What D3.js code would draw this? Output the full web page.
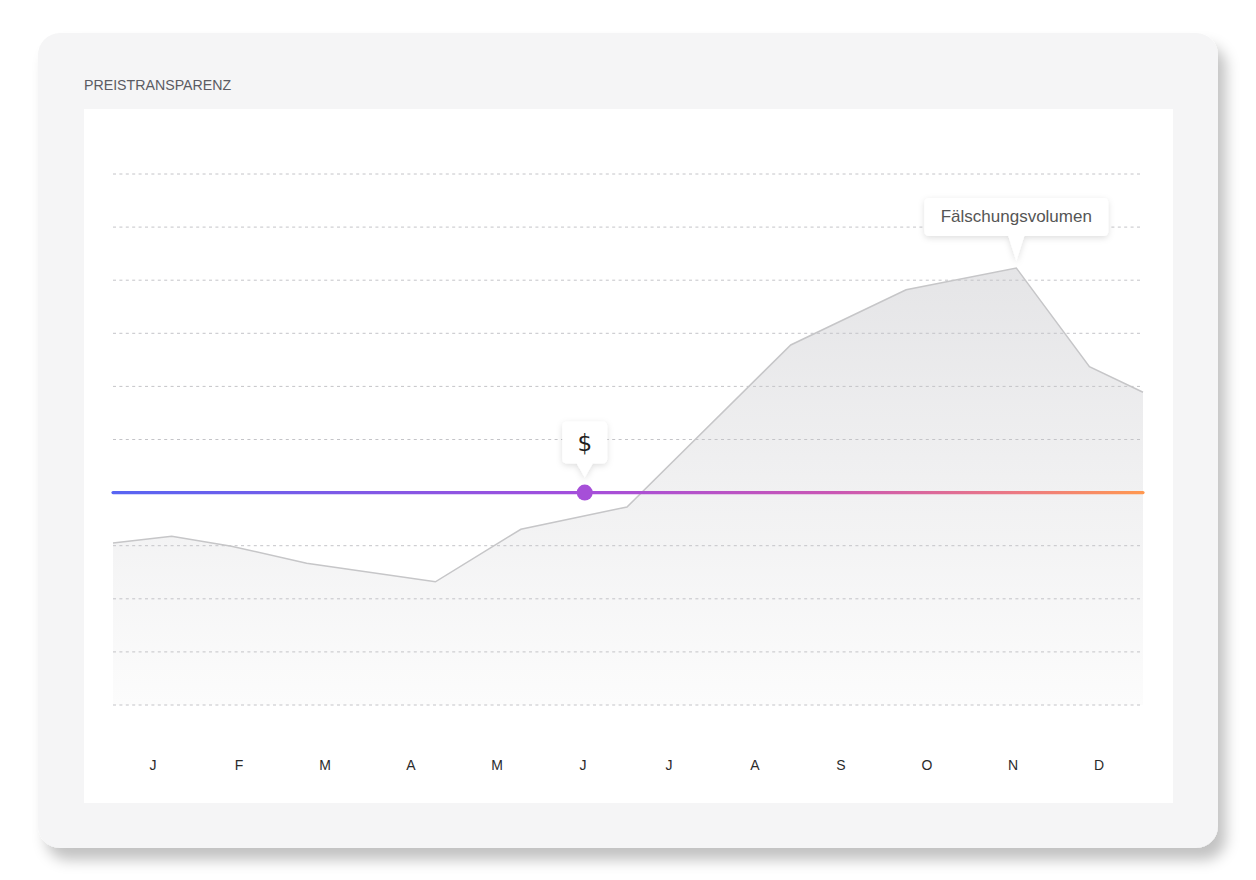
<!DOCTYPE html>
<html>
<head>
  <meta charset="utf-8">
  <title>Preistransparenz</title>
  <style type="text/css">
    body {
      margin: 0;
      background-color: #fff;
      font-family: "Liberation Sans", Arial, sans-serif;
    }
    svg { display: block; }
    .grid line {
      stroke: #c4c4c8;
      stroke-dasharray: 3,3.4;
    }
    .axis text {
      font-size: 14px;
      fill: #2b2b2b;
    }
  </style>
  <script src="https://d3js.org/d3.v7.min.js"></script>
</head>
<body>
<script>
// months on the bottom
var months = ["J", "F", "M", "A", "M", "J", "J", "A", "S", "O", "N", "D"];

// area series: position along the year (0-100) and value (0-100)
var volumeX = [0, 5.7, 11.5, 18.8, 31.3, 39.6, 49.9, 65.8, 77.0, 87.7, 94.8, 100];
var volumeY = [30.5, 31.8, 29.9, 26.7, 23.2, 33.1, 37.3, 67.8, 78.2, 82.3, 63.7, 58.9];

// price reference line + marker
var priceLevel = 40;
var markerX = 45.8;
var markerLabel = "$";
var peakLabel = "Fälschungsvolumen";
var title = "PREISTRANSPARENZ";

var W = 1256, H = 880;

var svg = d3.select("body").append("svg")
  .attr("width", W)
  .attr("height", H);

var defs = svg.append("defs");

var shadow = defs.append("filter").attr("id", "cardShadow")
  .attr("x", "-5%").attr("y", "-5%").attr("width", "115%").attr("height", "120%");
shadow.append("feDropShadow")
  .attr("dx", 8).attr("dy", 12).attr("stdDeviation", 7)
  .attr("flood-color", "#000").attr("flood-opacity", 0.24);

var tipShadow = defs.append("filter").attr("id", "tipShadow")
  .attr("x", "-30%").attr("y", "-30%").attr("width", "160%").attr("height", "170%");
tipShadow.append("feDropShadow")
  .attr("dx", 0).attr("dy", 2).attr("stdDeviation", 3)
  .attr("flood-color", "#000").attr("flood-opacity", 0.13);

// card + white panel
svg.append("rect")
  .attr("x", 38).attr("y", 33)
  .attr("width", 1180).attr("height", 815)
  .attr("rx", 22)
  .attr("fill", "#f5f5f6")
  .attr("filter", "url(#cardShadow)");

svg.append("rect")
  .attr("x", 84).attr("y", 109)
  .attr("width", 1089).attr("height", 694)
  .attr("fill", "#fff");

svg.append("text")
  .attr("x", 84).attr("y", 90)
  .attr("font-size", 14.2)
  .attr("fill", "#5b5b63")
  .text(title);

var plotLeft = 113, plotRight = 1143, plotTop = 174, plotBottom = 705;

var x = d3.scaleLinear().domain([0, 100]).range([plotLeft, plotRight]);
var y = d3.scaleLinear().domain([0, 100]).range([plotBottom, plotTop]);
var xMonth = d3.scaleBand().domain(d3.range(months.length)).range([110, 1142]);

var data = volumeX.map(function(v, i) { return {x: v, y: volumeY[i]}; });

// area gradient
var areaGrad = defs.append("linearGradient").attr("id", "areaGrad")
  .attr("gradientUnits", "userSpaceOnUse")
  .attr("x1", 0).attr("y1", y(d3.max(volumeY))).attr("x2", 0).attr("y2", plotBottom);
areaGrad.append("stop").attr("offset", "0%").attr("stop-color", "#e5e5e7");
areaGrad.append("stop").attr("offset", "100%").attr("stop-color", "#fcfcfc");

var area = d3.area()
  .x(function(d) { return x(d.x); })
  .y0(plotBottom)
  .y1(function(d) { return y(d.y); });

svg.append("path")
  .datum(data)
  .attr("d", area)
  .attr("fill", "url(#areaGrad)");

// dashed grid
svg.append("g")
  .attr("class", "grid")
  .selectAll("line")
  .data(y.ticks(10))
  .enter().append("line")
    .attr("x1", plotLeft).attr("x2", plotRight)
    .attr("y1", function(d) { return y(d); })
    .attr("y2", function(d) { return y(d); });

var line = d3.line()
  .x(function(d) { return x(d.x); })
  .y(function(d) { return y(d.y); });

svg.append("path")
  .datum(data)
  .attr("d", line)
  .attr("fill", "none")
  .attr("stroke", "#c6c6c8")
  .attr("stroke-width", 1.5);

// gradient price line
var lineGrad = defs.append("linearGradient").attr("id", "lineGrad")
  .attr("gradientUnits", "userSpaceOnUse")
  .attr("x1", plotLeft).attr("y1", 0).attr("x2", plotRight).attr("y2", 0);
[["0%", "#5865f2"], ["45%", "#a34edc"], ["70%", "#c956b4"], ["88%", "#ec7a82"], ["100%", "#ff9850"]]
  .forEach(function(s) {
    lineGrad.append("stop").attr("offset", s[0]).attr("stop-color", s[1]);
  });

svg.append("line")
  .attr("x1", plotLeft).attr("x2", plotRight)
  .attr("y1", y(priceLevel)).attr("y2", y(priceLevel))
  .attr("stroke", "url(#lineGrad)")
  .attr("stroke-width", 3.2)
  .attr("stroke-linecap", "round");

// tooltip shape: rounded box with a pointer underneath, tip at (cx, tipY)
function tipPath(cx, tipY, w, h, gap, r) {
  var x0 = cx - w / 2, x1 = cx + w / 2;
  var yb = tipY - gap, y0 = yb - h;
  var p = 8;
  return "M" + (x0 + r) + "," + y0 +
    "H" + (x1 - r) + "Q" + x1 + "," + y0 + " " + x1 + "," + (y0 + r) +
    "V" + (yb - r) + "Q" + x1 + "," + yb + " " + (x1 - r) + "," + yb +
    "H" + (cx + p) + "L" + cx + "," + tipY + "L" + (cx - p) + "," + yb +
    "H" + (x0 + r) + "Q" + x0 + "," + yb + " " + x0 + "," + (yb - r) +
    "V" + (y0 + r) + "Q" + x0 + "," + y0 + " " + (x0 + r) + "," + y0 + "Z";
}

// $ marker
var mx = x(markerX), my = y(priceLevel);
svg.append("path")
  .attr("d", tipPath(mx, my - 15, 45, 42, 14, 5))
  .attr("fill", "#fff")
  .attr("filter", "url(#tipShadow)");
svg.append("text")
  .attr("x", mx).attr("y", my - 42)
  .attr("text-anchor", "middle")
  .attr("font-family", "DejaVu Sans, sans-serif")
  .attr("font-size", 23)
  .attr("fill", "#1f1f1f")
  .text(markerLabel);
svg.append("circle")
  .attr("cx", mx).attr("cy", my)
  .attr("r", 8)
  .attr("fill", "#a64fd8");

// peak tooltip
var peak = data[d3.maxIndex(data, function(d) { return d.y; })];
var px = x(peak.x), py = y(peak.y);
svg.append("path")
  .attr("d", tipPath(px, py - 7, 184, 38, 25, 5))
  .attr("fill", "#fff")
  .attr("filter", "url(#tipShadow)");
svg.append("text")
  .attr("x", px).attr("y", py - 46)
  .attr("text-anchor", "middle")
  .attr("font-size", 17)
  .attr("fill", "#555")
  .text(peakLabel);

// month labels
var xAxis = d3.axisBottom(xMonth)
  .tickSize(0)
  .tickPadding(10)
  .tickFormat(function(i) { return months[i]; });

svg.append("g")
  .attr("class", "axis")
  .attr("transform", "translate(0,750)")
  .call(xAxis)
  .call(function(g) { g.select(".domain").remove(); })
  .selectAll("text")
    .attr("font-family", "Liberation Sans, Arial, sans-serif");
</script>
</body>
</html>
